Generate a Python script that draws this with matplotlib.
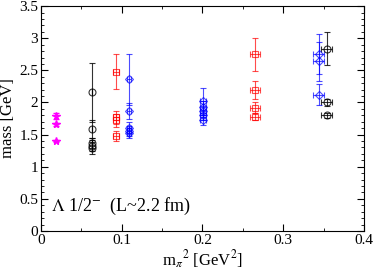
import matplotlib.pyplot as plt
import numpy as np

plt.rcParams['font.family'] = ['Liberation Serif', 'DejaVu Serif']
plt.rcParams['mathtext.fontset'] = 'stix'

# magenta stars
mag_x = [0.018, 0.018, 0.018]
mag_y = [1.79, 1.66, 1.40]
mag_e = [0.04, 0.02, 0.02]

# black circles
blk_x = [0.0636, 0.0636, 0.0636, 0.0636, 0.0636, 0.354, 0.354, 0.354]
blk_y = [2.16, 1.58, 1.37, 1.33, 1.29, 2.84, 2.00, 1.80]
blk_e = [0.46, 0.14, 0.08, 0.08, 0.09, 0.26, 0.06, 0.04]
blk_xe = [0, 0, 0, 0, 0, 0.007, 0.007, 0.007]

# red squares
red_x = [0.093, 0.093, 0.093, 0.093, 0.265, 0.265, 0.265, 0.265]
red_y = [2.48, 1.77, 1.72, 1.48, 2.75, 2.19, 1.92, 1.78]
red_e = [0.27, 0.10, 0.10, 0.08, 0.26, 0.14, 0.08, 0.06]
red_xe = [0.004, 0.004, 0.004, 0.004, 0.006, 0.006, 0.006, 0.006]

# blue diamonds
blu_x = [0.109, 0.109, 0.109, 0.109, 0.109,
         0.201, 0.201, 0.201, 0.201, 0.201,
         0.344, 0.344, 0.344]
blu_y = [2.36, 1.87, 1.61, 1.56, 1.52,
         2.02, 1.93, 1.86, 1.80, 1.73,
         2.76, 2.64, 2.12]
blu_e = [0.40, 0.12, 0.08, 0.08, 0.08,
         0.21, 0.10, 0.08, 0.08, 0.08,
         0.31, 0.30, 0.16]
blu_xe = [0.002] * 5 + [0.004] * 5 + [0.007] * 3

fig = plt.figure(figsize=(3.74, 2.77), dpi=100)
ax = fig.add_axes([0.1096, 0.166, 0.8634, 0.812])

ax.errorbar(mag_x, mag_y, yerr=mag_e, fmt='*', color='magenta', ms=5.5,
            capsize=2, elinewidth=0.8, lw=0)
ax.errorbar(blk_x, blk_y, yerr=blk_e, xerr=blk_xe, fmt='o', color='black',
            mfc='none', ms=5, mew=0.8, capsize=2, elinewidth=0.8, alpha=0.8)
ax.errorbar(red_x, red_y, yerr=red_e, xerr=red_xe, fmt='s', color='red',
            mfc='none', ms=5, mew=0.8, capsize=2, elinewidth=0.8, alpha=0.7)
ax.errorbar(blu_x, blu_y, yerr=blu_e, xerr=blu_xe, fmt='D', color='blue',
            mfc='none', ms=4, mew=0.8, capsize=2, elinewidth=0.8, alpha=0.7)

ax.set_xlim(0, 0.4)
ax.set_ylim(0, 3.5)
ax.set_xticks(np.arange(0, 0.41, 0.1))
ax.set_xticks(np.arange(0, 0.41, 0.05), minor=True)
ax.set_yticks(np.arange(0, 3.51, 0.5))
ax.set_yticks(np.arange(0, 3.51, 0.1), minor=True)
ax.set_xticklabels(['0', '0.1', '0.2', '0.3', '0.4'])
ax.set_yticklabels(['0', '0.5', '1', '1.5', '2', '2.5', '3', '3.5'])
ax.tick_params(which='both', direction='in', top=True, right=True,
               labelsize=11, pad=2)
ax.tick_params(which='major', length=5)
ax.tick_params(which='minor', length=2.5)

ax.set_xlabel(r'm$_\pi$$^2$ [GeV$^2$]', fontsize=12, labelpad=1)
ax.set_ylabel('mass [GeV]', fontsize=12, labelpad=2)
ax.text(0.013, 0.32, r'$\Lambda$ 1/2$^{-}$  (L~2.2 fm)', fontsize=13)

fig.savefig('out.png', dpi=100)
